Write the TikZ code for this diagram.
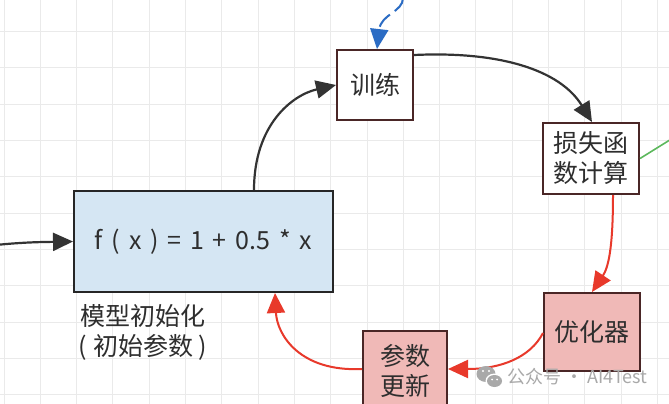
\documentclass[tikz,border=0pt]{standalone}
\usepackage{fontspec}
\setmainfont{Noto Sans CJK SC}
\usetikzlibrary{arrows.meta}
\definecolor{gridc}{HTML}{EAEAEA}
\definecolor{inkc}{HTML}{2E2E2E}
\definecolor{darkc}{HTML}{333333}
\definecolor{redc}{HTML}{E8392B}
\definecolor{bluec}{HTML}{2B6CC4}
\definecolor{greenc}{HTML}{5CB85C}
\definecolor{edgec}{HTML}{4A2626}
\definecolor{pinkc}{HTML}{F0B9B7}
\definecolor{lbluec}{HTML}{D5E6F3}
\definecolor{wmc}{HTML}{A9A9A9}
\tikzset{
  cjk/.style={font=\fontsize{25}{30}\selectfont, text=inkc, align=center},
  whitebox/.style={cjk, draw=edgec, fill=white, line width=2pt, inner sep=0pt, rectangle},
  pinkbox/.style={cjk, draw=edgec, fill=pinkc, line width=2pt, inner sep=0pt, rectangle},
  bluebox/.style={cjk, draw=black!85, fill=lbluec, line width=2pt, inner sep=0pt, rectangle},
  blkarrow/.style={draw=darkc, line width=2.2pt, -{Triangle[length=20pt,width=18pt]}},
  redarrow/.style={draw=redc, line width=2pt, -{Triangle[length=20pt,width=18pt]}},
  bluearrow/.style={draw=bluec, line width=2pt, dash pattern=on 16pt off 6pt, -{Triangle[length=20pt,width=18pt]}},
  greenline/.style={draw=greenc, line width=1.6pt},
  watermark/.style={font=\fontsize{18}{21}\selectfont, text=wmc, inner sep=0pt}
}
\begin{document}
\begin{tikzpicture}[x=1pt,y=-1pt]
\useasboundingbox (0,0) rectangle (669,404);
\clip (0,0) rectangle (669,404);
\fill[white] (0,0) rectangle (669,404);
% grid
\foreach \i in {0,...,18} \draw[gridc, line width=1pt] ({4+36.3*\i},0) -- ({4+36.3*\i},404);
\foreach \j in {0,...,10} \draw[gridc, line width=1pt] (0,{31.7+36.3*\j}) -- (669,{31.7+36.3*\j});

% nodes
\node[whitebox, minimum width=76pt, minimum height=70pt] (train) at (375,85) {训练};
\node[whitebox, minimum width=96pt, minimum height=71pt] (loss) at (591,158.5) {损失函\\数计算};
\node[pinkbox, minimum width=96pt, minimum height=78pt] (opt) at (592,332) {优化器};
\node[pinkbox, minimum width=84pt, minimum height=80pt] (upd) at (405,371) {参数\\更新};
\node[bluebox, minimum width=259pt, minimum height=101pt] (model) at (203.5,241.5) {\spaceskip=8.8pt f ( x ) = 1 + 0.5 * x};
\node[cjk, inner sep=0pt] (lbl) at (143,332) {模型初始化\\( 初始参数 )};

% free ends
\coordinate (leftin) at (-4,245);
\coordinate (bluein) at (403,-2);
\coordinate (greenout) at (673,138);

% connectors
\draw[blkarrow] (leftin) .. controls (25,242) and (45,242) .. (model.west);
\draw[blkarrow] ([xshift=50.5pt]model.north) .. controls (254,125) and (292,95) .. (train.west);
\draw[blkarrow] ([yshift=30pt]train.east) .. controls (500,51) and (560,70) .. ([xshift=1pt]loss.north);
\draw[redarrow] ([xshift=22pt]loss.south) .. controls (613,250) and (608,268) .. (opt.north);
\draw[redarrow] ([yshift=-1pt]opt.west) .. controls (530,358) and (500,369) .. ([yshift=2pt]upd.east);
\draw[redarrow] ([yshift=2pt]upd.west) .. controls (300,372) and (277,335) .. ([xshift=71.5pt]model.south);
\draw[bluearrow] (bluein) .. controls (403,12) and (381,14) .. ([xshift=2pt]train.north);
\draw[greenline] (loss.east) -- (greenout);

% watermark
\fill[wmc] (486,374) ellipse [x radius=9.5pt, y radius=8pt];
\fill[white] (494.5,381) ellipse [x radius=9pt, y radius=7.5pt];
\fill[wmc] (494.5,381) ellipse [x radius=7.5pt, y radius=6pt];
\fill[white] (483,371) circle (1.2pt) (489,371) circle (1.2pt);
\fill[white] (492,379.5) circle (1pt) (497,379.5) circle (1pt);
\node[watermark, anchor=west] (wm) at (507,377) {公众号 · AI4Test};
\end{tikzpicture}
\end{document}
